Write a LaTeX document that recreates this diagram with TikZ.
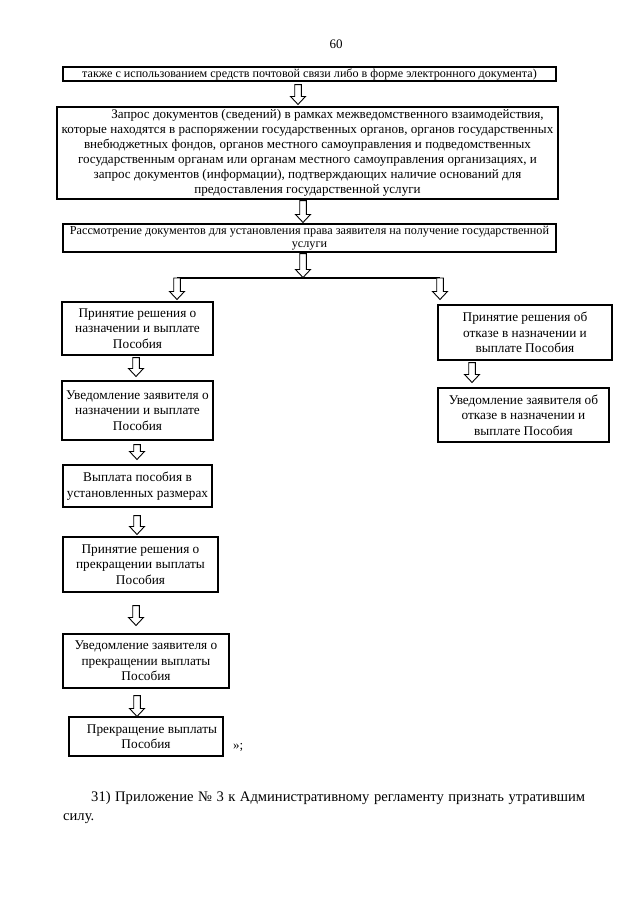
\documentclass[tikz,border=0pt]{standalone}
\usepackage{fontspec}
\setmainfont{Liberation Serif}
\usetikzlibrary{calc}
\begin{document}
\begin{tikzpicture}[x=1pt,y=-1pt,
  box/.style={draw=black, line width=1.1pt, align=center, inner sep=0pt,
    font=\fontsize{13.3}{15.5}\selectfont},
  arr/.style={draw=black, line width=0.9pt, fill=white},
  harrow/.style 2 args={to path={let \p1=(\tikztostart), \p2=(\tikztotarget) in
    (\x1-3.3pt,\y1-#1) -- (\x1+3.3pt,\y1-#1) -- (\x1+3.3pt,\y2+#2+8pt) --
    (\x1+7.5pt,\y2+#2+8pt) -- (\x1,\y2+#2) -- (\x1-7.5pt,\y2+#2+8pt) --
    (\x1-3.3pt,\y2+#2+8pt) -- cycle}},
  plain/.style={inner sep=0pt, font=\fontsize{13}{15}\selectfont}
]
\useasboundingbox[fill=white] (0,0) rectangle (640,905);

\node[plain] (pg) at (336,44) {60};

\node[box, minimum width=493pt, minimum height=14pt, font=\fontsize{12.1}{13}\selectfont] (b1) at (309.5,74)
  {также с использованием средств почтовой связи либо в форме электронного документа)};
\node[box, minimum width=501pt, minimum height=92pt, font=\fontsize{13.1}{15.1}\selectfont] (b2) at (307.5,153)
  {\hspace*{40pt}Запрос документов (сведений) в рамках межведомственного взаимодействия,\\
   которые находятся в распоряжении государственных органов, органов государственных\\
   внебюджетных фондов, органов местного самоуправления и подведомственных\\
   государственным органам или органам местного самоуправления организациях, и\\
   запрос документов (информации), подтверждающих наличие оснований для\\
   предоставления государственной услуги};
\node[box, minimum width=493pt, minimum height=28pt, font=\fontsize{12.2}{13}\selectfont] (b3) at (309.5,238)
  {\raisebox{-1.5pt}{\parbox{490pt}{\centering Рассмотрение документов для установления права заявителя на получение государственной\\ услуги}}};

\node[box, minimum width=151pt, minimum height=53pt] (L1) at (137.5,328.5)
  {\raisebox{-3pt}{\parbox{150pt}{\centering Принятие решения о\\ назначении и выплате\\ Пособия}}};
\node[box, minimum width=174pt, minimum height=55pt] (R1) at (525,332.5)
  {Принятие решения об\\ отказе в назначении и\\ выплате Пособия};
\node[box, minimum width=151pt, minimum height=59pt] (L2) at (137.5,410.5)
  {Уведомление заявителя о\\ назначении и выплате\\ Пособия};
\node[box, minimum width=171pt, minimum height=54pt] (R2) at (523.5,415)
  {Уведомление заявителя об\\ отказе в назначении и\\ выплате Пособия};
\node[box, minimum width=149pt, minimum height=42pt] (L3) at (137.5,486)
  {Выплата пособия в\\ установленных размерах};
\node[box, minimum width=155pt, minimum height=55pt] (L4) at (140.5,564.5)
  {Принятие решения о\\ прекращении выплаты\\ Пособия};
\node[box, minimum width=166pt, minimum height=54pt] (L5) at (146,661)
  {Уведомление заявителя о\\ прекращении выплаты\\ Пособия};
\node[box, minimum width=154pt, minimum height=39pt] (L6) at (146,736.5)
  {\hspace*{12pt}Прекращение выплаты\\ Пособия};
\node[plain, anchor=west] (q) at (233,747) {»;};

\coordinate (jl) at (177,278);
\coordinate (jm) at (303,278);
\coordinate (jr) at (440,278);
\draw[line width=1.1pt] (jl) -- (jr);

\draw[arr] ($(b1.south)+(-11.5,0)$) to[harrow={3pt}{2pt}] (b2.north);
\draw[arr] ($(b2.south)+(-4.5,0)$) to[harrow={1pt}{1pt}] (b3.north);
\draw[arr] ($(b3.south)+(-6.5,0)$) to[harrow={1pt}{0.5pt}] (jm);
\draw[arr] (jl) to[harrow={0pt}{2pt}] (L1.north);
\draw[arr] (jr) to[harrow={0pt}{5pt}] (R1.north);
\draw[arr] ($(L1.south)+(-1.5,0)$) to[harrow={2pt}{4pt}] (L2.north);
\draw[arr] ($(R1.south)+(-53,0)$) to[harrow={2pt}{5pt}] (R2.north);
\draw[arr] ($(L2.south)+(-0.5,0)$) to[harrow={4pt}{5pt}] (L3.north);
\draw[arr] ($(L3.south)+(-0.5,0)$) to[harrow={8pt}{2pt}] (L4.north);
\draw[arr] ($(L4.south)+(-4.5,0)$) to[harrow={13pt}{8pt}] (L5.north);
\draw[arr] ($(L5.south)+(-9,0)$) to[harrow={7pt}{0pt}] (L6.north);

\node[plain, anchor=west, font=\fontsize{14.6}{20}\selectfont] (p1) at (91,798)
  {\makebox[494pt][s]{31) Приложение № 3 к Административному регламенту признать утратившим}};
\node[plain, anchor=west, font=\fontsize{14.6}{20}\selectfont] (p2) at (63,819) {силу.};
\end{tikzpicture}
\end{document}
